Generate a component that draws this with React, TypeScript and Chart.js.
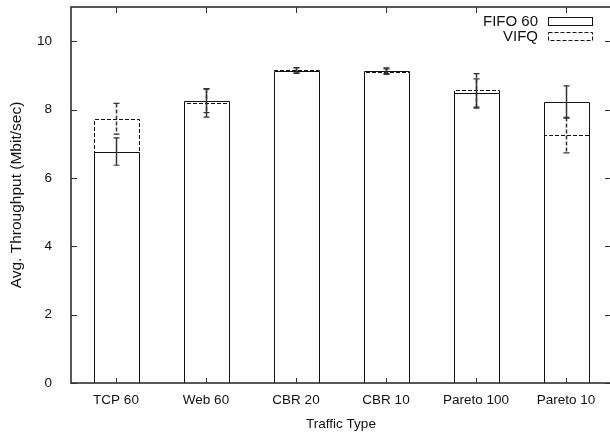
import React, { useEffect, useRef } from "react";
import { Chart, registerables } from "chart.js";

Chart.register(...registerables);

const categories = ["TCP 60", "Web 60", "CBR 20", "CBR 10", "Pareto 100", "Pareto 10"];
const seriesNames = ["FIFO 60", "VIFQ"];
const fifoValues = [6.77, 8.26, 9.14, 9.14, 8.47, 8.22];
const fifoErrors = [0.4, 0.35, 0.08, 0.08, 0.43, 0.47];
const vifqValues = [7.73, 8.19, 9.15, 9.11, 8.56, 7.25];
const vifqErrors = [0.45, 0.41, 0.08, 0.08, 0.49, 0.52];
const yTicks = [0, 2, 4, 6, 8, 10];
const yMax = 11;

const FONT = "'Liberation Sans', Arial, Helvetica, sans-serif";
const dashes: number[][] = [[], [4, 2]];
const errorSets = [fifoErrors, vifqErrors];

const gnuplotPlugin = {
  id: "gnuplotBoxes",
  afterDatasetsDraw(chart: any) {
    const ctx = chart.ctx;
    const { left, right, top, bottom } = chart.chartArea;
    const yScale = chart.scales.y;
    const xScale = chart.scales.x;
    ctx.save();

    // boxes
    chart.data.datasets.forEach((ds: any, i: number) => {
      const meta = chart.getDatasetMeta(i);
      meta.data.forEach((el: any) => {
        const { x, y, base, width } = el.getProps(["x", "y", "base", "width"], true);
        ctx.setLineDash(dashes[i]);
        ctx.strokeStyle = "#111";
        ctx.lineWidth = 1;
        const x0 = Math.round(x - width / 2) + 0.5;
        const x1 = Math.round(x + width / 2) + 0.5;
        const yt = Math.round(y) + 0.5;
        ctx.beginPath();
        ctx.moveTo(x0, base);
        ctx.lineTo(x0, yt);
        ctx.lineTo(x1, yt);
        ctx.lineTo(x1, base);
        ctx.stroke();
      });
    });
    // error bars
    chart.data.datasets.forEach((ds: any, i: number) => {
      const meta = chart.getDatasetMeta(i);
      meta.data.forEach((el: any, j: number) => {
        const { x } = el.getProps(["x"], true);
        const v = ds.data[j];
        const e = errorSets[i][j];
        const yHi = yScale.getPixelForValue(v + e);
        const yLo = yScale.getPixelForValue(v - e);
        const cx = Math.round(x) + 0.5;
        ctx.setLineDash(dashes[i]);
        ctx.strokeStyle = "#333";
        ctx.lineWidth = 1.5;
        ctx.beginPath();
        ctx.moveTo(cx, yHi);
        ctx.lineTo(cx, yLo);
        ctx.stroke();
        ctx.setLineDash([]);
        ctx.lineWidth = 1.2;
        ctx.beginPath();
        ctx.moveTo(cx - 3, yHi);
        ctx.lineTo(cx + 3, yHi);
        ctx.moveTo(cx - 3, yLo);
        ctx.lineTo(cx + 3, yLo);
        ctx.stroke();
      });
    });

    // frame
    ctx.setLineDash([]);
    ctx.strokeStyle = "#222";
    ctx.lineWidth = 1.5;
    ctx.strokeRect(left, top, right - left, bottom - top);

    // inward ticks
    ctx.lineWidth = 1;
    ctx.strokeStyle = "#333";
    ctx.beginPath();
    yScale.ticks.forEach((t: any) => {
      const py = Math.round(yScale.getPixelForValue(t.value)) + 0.5;
      ctx.moveTo(left, py);
      ctx.lineTo(left + 6, py);
      ctx.moveTo(right, py);
      ctx.lineTo(right - 6, py);
    });
    categories.forEach((_, k) => {
      const px = Math.round(xScale.getPixelForValue(k)) + 0.5;
      ctx.moveTo(px, bottom);
      ctx.lineTo(px, bottom - 5);
      ctx.moveTo(px, top);
      ctx.lineTo(px, top + 6);
    });
    ctx.stroke();

    // legend
    ctx.font = `15px ${FONT}`;
    ctx.fillStyle = "#111";
    ctx.textAlign = "right";
    ctx.textBaseline = "middle";
    const legendY = [21, 36];
    seriesNames.forEach((name, i) => {
      ctx.fillText(name, 538, legendY[i] + 1);
      ctx.setLineDash(dashes[i]);
      ctx.strokeStyle = "#111";
      ctx.lineWidth = 1;
      ctx.strokeRect(548.5, legendY[i] - 4 + 0.5, 44, 8);
    });
    ctx.restore();
  },
};

export default function App() {
  const ref = useRef<HTMLCanvasElement | null>(null);
  useEffect(() => {
    const canvas = ref.current;
    if (!canvas) return;
    const chart = new Chart(canvas, {
      type: "bar",
      data: {
        labels: categories,
        datasets: [
          {
            label: seriesNames[0],
            data: fifoValues,
            backgroundColor: "rgba(0,0,0,0)",
            borderWidth: 0,
            grouped: false,
            barPercentage: 0.5,
            categoryPercentage: 1,
          },
          {
            label: seriesNames[1],
            data: vifqValues,
            backgroundColor: "rgba(0,0,0,0)",
            borderWidth: 0,
            grouped: false,
            barPercentage: 0.5,
            categoryPercentage: 1,
          },
        ],
      },
      options: {
        responsive: false,
        animation: false,
        layout: { padding: { top: 7, right: 1, left: 0, bottom: 0 } },
        plugins: {
          legend: { display: false },
          tooltip: { enabled: false },
          title: { display: false },
        },
        scales: {
          x: {
            type: "category",
            grid: { display: false, drawTicks: false },
            border: { display: false },
            ticks: {
              color: "#111",
              font: { family: FONT, size: 13.5 },
              padding: 9,
              maxRotation: 0,
              autoSkip: false,
            },
            title: {
              display: true,
              text: "Traffic Type",
              color: "#111",
              font: { family: FONT, size: 13.5 },
              padding: { top: 0, bottom: 2 },
            },
            afterFit: (s: any) => {
              s.height = 51;
              s.paddingLeft = 0;
              s.paddingRight = 0;
            },
          },
          y: {
            min: 0,
            max: yMax,
            grid: { display: false, drawTicks: false },
            border: { display: false },
            afterBuildTicks: (s: any) => {
              s.ticks = yTicks.map((v) => ({ value: v }));
            },
            ticks: {
              color: "#111",
              font: { family: FONT, size: 13.5 },
              padding: 19,
            },
            title: {
              display: true,
              text: "Avg. Throughput (Mbit/sec)",
              color: "#111",
              font: { family: FONT, size: 15.5 },
              padding: { top: 7, bottom: 0 },
            },
            afterFit: (s: any) => {
              s.width = 71;
              s.paddingTop = 0;
              s.paddingBottom = 0;
            },
          },
        },
      },
      plugins: [gnuplotPlugin],
    });
    return () => chart.destroy();
  }, []);

  return (
    <div
      style={{
        position: "fixed",
        left: 0,
        top: 0,
        width: 610,
        height: 434,
        overflow: "hidden",
        background: "#fff",
      }}
    >
      <canvas ref={ref} width={612} height={434} style={{ display: "block" }} />
    </div>
  );
}
